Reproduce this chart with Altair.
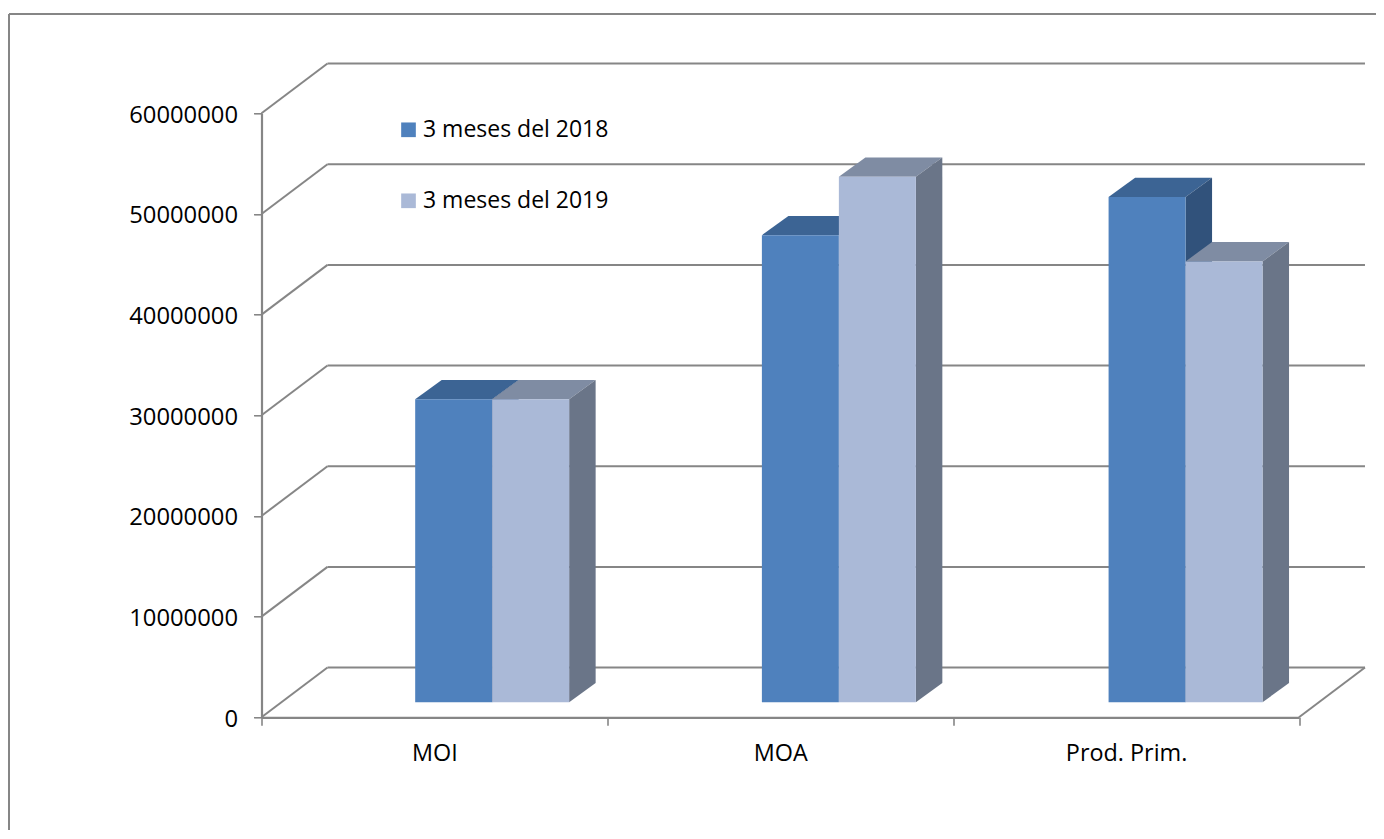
import json
import altair as alt
import pandas as pd

CATEGORIES = ["MOI", "MOA", "Prod. Prim."]
SERIES_NAMES = ["3 meses del 2018", "3 meses del 2019"]
VALUES_2018 = [30100000, 46400000, 50200000]
VALUES_2019 = [30100000, 52200000, 43800000]
Y_TICKS = [0, 10000000, 20000000, 30000000, 40000000, 50000000, 60000000]
X_EDGES = [0, 1, 2, 3]
X_LABEL_POS = [0.5, 1.5, 2.5]

FRONT = ["#4F81BD", "#AAB9D7"]
TOP = ["#3C6494", "#7F8CA3"]
SIDE = ["#31527B", "#6A7588"]
LINE = "#868686"
FONT = "Open Sans"

# oblique projection constants (category units / value units)
WALL_DX, WALL_DY = 0.1908, 4940000
BAR_DX, BAR_DY = 0.0766, 1917000
BAR_W = 0.2226
BAR_SHIFT = 0.667
BAR_STEP = 1.0025
FLOOR_DY = 1490000

X_SCALE = alt.Scale(domain=[0, 3], nice=False, zero=False)
Y_SCALE = alt.Scale(domain=[0, 60000000], nice=False, zero=False)

grid = []
for v in Y_TICKS:
    grid.append(dict(x=0, x2=WALL_DX, y=v, y2=v + WALL_DY))
    grid.append(dict(x=WALL_DX, x2=3 + WALL_DX, y=v + WALL_DY, y2=v + WALL_DY))
grid.append(dict(x=3, x2=3 + WALL_DX, y=0, y2=WALL_DY))
grid_df = pd.DataFrame(grid)

label_map = {str(p): c for p, c in zip(X_LABEL_POS, CATEGORIES)}
label_expr = "(" + json.dumps(label_map) + ")[toString(datum.value)] || ''"

x_axis = alt.Axis(
    title=None,
    values=sorted(X_EDGES + X_LABEL_POS),
    labelExpr=label_expr,
    tickOpacity=alt.expr("datum.value % 1 === 0 ? 1 : 0"),
    tickSize=8,
    tickWidth=1.6,
    tickColor=LINE,
    domainColor=LINE,
    domainWidth=2.2,
    grid=False,
    labelFont=FONT,
    labelFontSize=23.4,
    labelColor="#000000",
    labelPadding=17,
    labelOverlap=False,
    labelFlush=False,
)
y_axis = alt.Axis(
    title=None,
    values=Y_TICKS,
    format="d",
    tickSize=8,
    tickWidth=1.6,
    tickColor=LINE,
    domainColor=LINE,
    domainWidth=2.2,
    grid=False,
    labelFont=FONT,
    labelFontSize=23.8,
    labelColor="#000000",
    labelPadding=16,
    labelOffset=2,
    labelOverlap=False,
    labelFlush=False,
)

base_x = alt.X("x:Q", scale=X_SCALE, axis=x_axis)
base_y = alt.Y("y:Q", scale=Y_SCALE, axis=y_axis)

grid_layer = alt.Chart(grid_df).mark_rule(color=LINE, strokeWidth=2).encode(
    x=base_x, x2="x2:Q", y=base_y, y2="y2:Q"
)

frame_top = alt.Chart(pd.DataFrame({"a": [0]})).mark_rule(color=LINE, strokeWidth=2).encode(
    x=alt.value(-252.5), x2=alt.value(1200), y=alt.value(-99.3)
)
frame_left = alt.Chart(pd.DataFrame({"a": [0]})).mark_rule(color=LINE, strokeWidth=2).encode(
    x=alt.value(-252.5), y=alt.value(-99.3), y2=alt.value(800)
)

layers = [grid_layer, frame_top, frame_left]
color = alt.Color(
    "series:N",
    scale=alt.Scale(domain=SERIES_NAMES, range=FRONT),
    legend=alt.Legend(
        title=None,
        orient="none",
        legendX=135.5,
        legendY=5,
        symbolType="square",
        symbolSize=215,
        symbolStrokeWidth=0,
        symbolOpacity=1,
        labelFont=FONT,
        labelFontSize=23,
        labelColor="#000000",
        labelLimit=400,
        labelOffset=3,
        rowPadding=47,
        padding=0,
    ),
)

for j, (name, values) in enumerate(zip(SERIES_NAMES, [VALUES_2018, VALUES_2019])):
    fronts, tops, sides = [], [], []
    for i, v in enumerate(values):
        x0 = i * BAR_STEP + BAR_SHIFT + (j - 1) * BAR_W
        x1 = x0 + BAR_W
        y0 = FLOOR_DY
        y1 = v + FLOOR_DY
        fronts.append(dict(x=x0, x2=x1, y=y0, y2=y1, series=name))
        tops.append(dict(id=i, y=y1, x=x0, x2=x1))
        tops.append(dict(id=i, y=y1 + BAR_DY, x=x0 + BAR_DX, x2=x1 + BAR_DX))
        sides.append(dict(id=i, x=x1, y=y0, y2=y1))
        sides.append(dict(id=i, x=x1 + BAR_DX, y=y0 + BAR_DY, y2=y1 + BAR_DY))
    layers.append(
        alt.Chart(pd.DataFrame(tops)).mark_area(orient="horizontal", color=TOP[j]).encode(
            x=base_x, x2="x2:Q", y=base_y, detail="id:N"
        )
    )
    layers.append(
        alt.Chart(pd.DataFrame(sides)).mark_area(orient="vertical", color=SIDE[j]).encode(
            x=base_x, y=base_y, y2="y2:Q", detail="id:N"
        )
    )
    layers.append(
        alt.Chart(pd.DataFrame(fronts)).mark_rect().encode(
            x=base_x, x2="x2:Q", y=base_y, y2="y2:Q", color=color
        )
    )

chart = (
    alt.layer(*layers)
    .properties(
        width=1037.5,
        height=604,
        autosize=alt.AutoSizeParams(type="none"),
        padding={"left": 253.5, "top": 105.3, "right": 77, "bottom": 113},
        background="#FFFFFF",
    )
    .configure_view(stroke=None)
)

chart.save("out.html", embed_options={"renderer": "svg", "actions": False})
